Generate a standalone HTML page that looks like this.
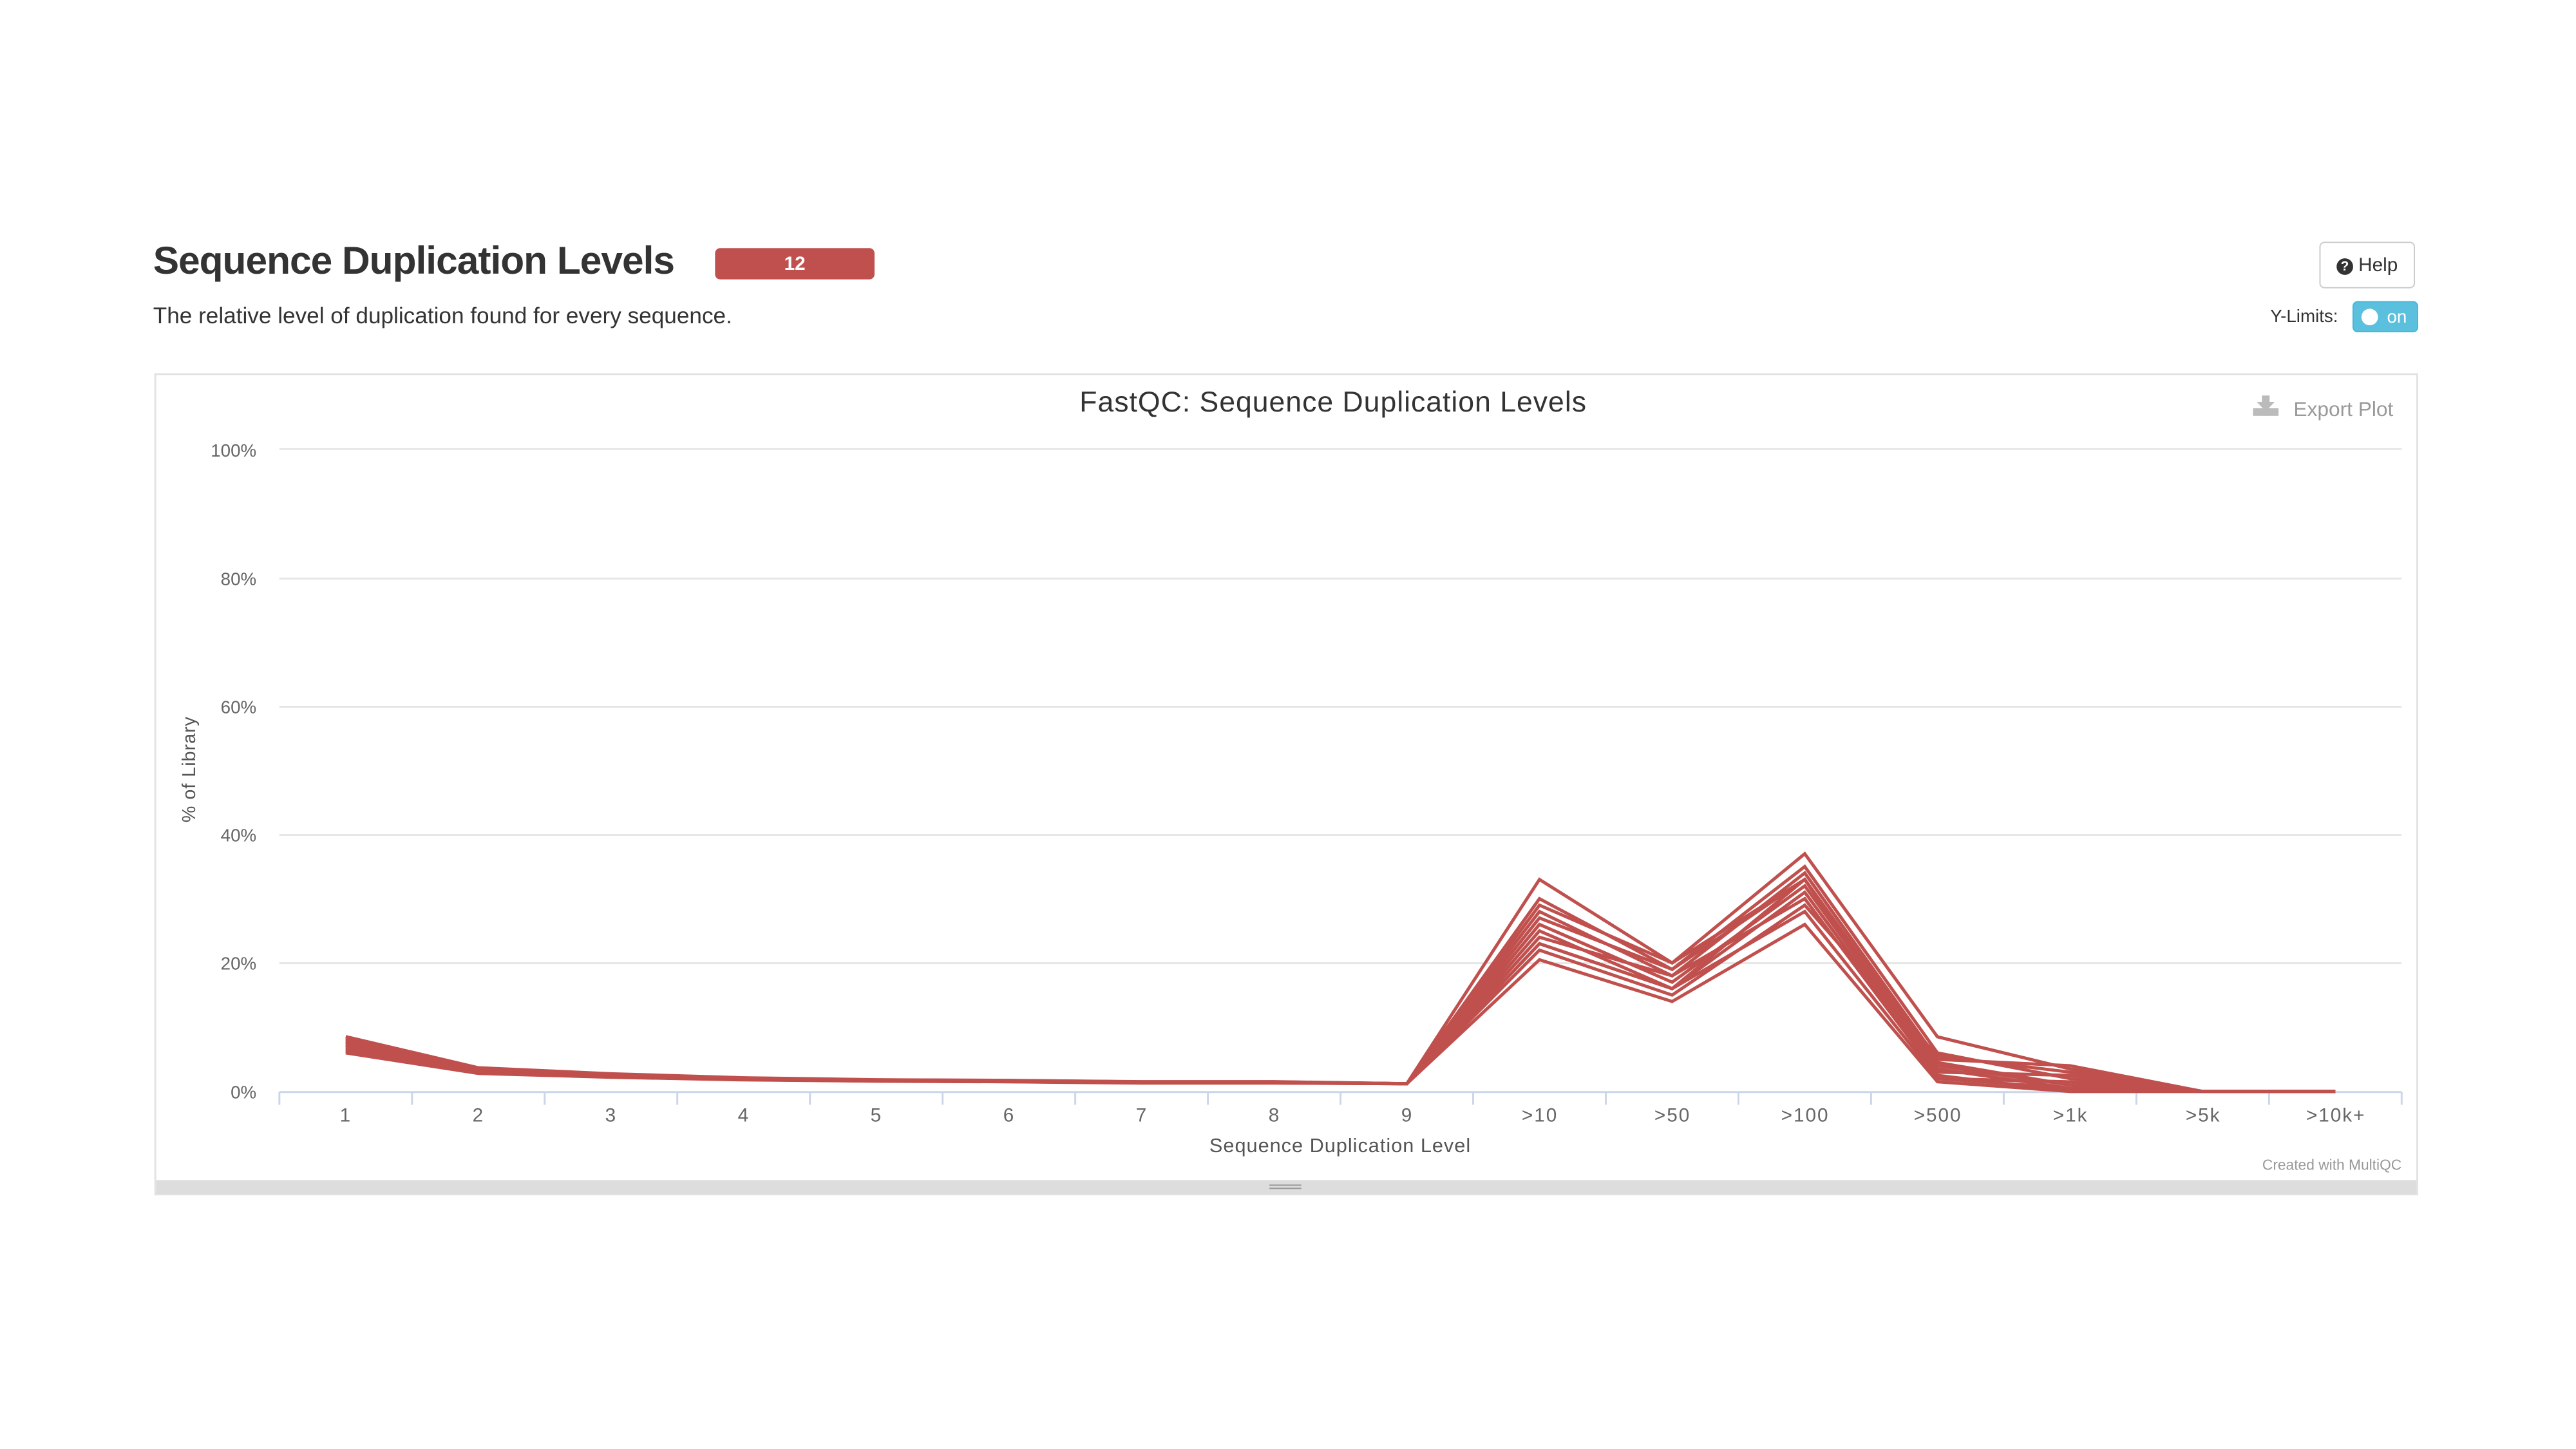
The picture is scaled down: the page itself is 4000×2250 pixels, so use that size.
<!DOCTYPE html>
<html><head><meta charset="utf-8"><style>
body{margin:0;background:#fff;width:4000px;height:2250px;overflow:hidden;font-family:"Liberation Sans",sans-serif;}
#wrap{position:absolute;left:0;top:0;width:4000px;height:2250px;transform:scale(0.9905);transform-origin:0 0;}
.abs{position:absolute;}
</style></head><body><div id="wrap">
<div class="abs" style="left:240px;top:373px;font-size:61px;font-weight:bold;color:#333;letter-spacing:-1px">Sequence Duplication Levels</div>
<div class="abs" style="left:1121px;top:389px;width:250px;height:49px;background:#c0504d;border-radius:8px;color:#fff;font-weight:bold;font-size:30px;text-align:center;line-height:49px">12</div>
<div class="abs" style="left:240px;top:475px;font-size:35.5px;color:#333">The relative level of duplication found for every sequence.</div>
<div class="abs" style="left:3636px;top:379px;width:150px;height:73px;border:2px solid #ccc;border-radius:8px;box-sizing:border-box;font-size:30px;color:#333;text-align:center;line-height:70px"><span style="display:inline-block;width:26px;height:26px;border-radius:50%;background:#333;color:#fff;font-size:21px;line-height:26px;font-weight:bold;vertical-align:1px">?</span> Help</div>
<div class="abs" style="left:3559px;top:480px;font-size:28px;color:#333">Y-Limits:</div>
<div class="abs" style="left:3688px;top:472px;width:103px;height:49px;background:#5bc0de;border-radius:8px;border:2px solid #46b8da;box-sizing:border-box"><div style="position:absolute;left:12px;top:10px;width:26px;height:26px;border-radius:50%;background:#fff"></div><div style="position:absolute;left:52px;top:7px;color:#fff;font-size:28px">on</div></div>
<div class="abs" style="left:242px;top:585px;width:3549px;height:1289px;border:3px solid #e3e3e3;box-sizing:border-box"></div>
<div class="abs" style="left:245px;top:1850px;width:3543px;height:22px;background:#ddd"></div>
<div class="abs" style="left:1990px;top:1857px;width:50px;height:3px;border-top:2px solid #999;border-bottom:2px solid #999"></div>
<svg class="abs" style="left:0;top:0" width="4000" height="2250" xmlns="http://www.w3.org/2000/svg" font-family="Liberation Sans, sans-serif">
<g stroke="#e6e6e6" stroke-width="3">
<line x1="438" x2="3765" y1="704" y2="704"/><line x1="438" x2="3765" y1="907" y2="907"/><line x1="438" x2="3765" y1="1108" y2="1108"/><line x1="438" x2="3765" y1="1309" y2="1309"/><line x1="438" x2="3765" y1="1510" y2="1510"/>
</g>
<line x1="438" x2="3765" y1="1712" y2="1712" stroke="#ccd6eb" stroke-width="3"/>
<g id="ticks" stroke="#ccd6eb" stroke-width="3"></g>
<g font-size="28" fill="#666" text-anchor="end">
<text x="402" y="716">100%</text><text x="402" y="917">80%</text><text x="402" y="1118">60%</text><text x="402" y="1319">40%</text><text x="402" y="1520">20%</text><text x="402" y="1722">0%</text>
</g>
<g font-size="30" fill="#666" text-anchor="middle" letter-spacing="2">
<text x="542" y="1758">1</text><text x="750" y="1758">2</text><text x="958" y="1758">3</text><text x="1166" y="1758">4</text><text x="1374" y="1758">5</text><text x="1582" y="1758">6</text><text x="1790" y="1758">7</text><text x="1998" y="1758">8</text><text x="2206" y="1758">9</text><text x="2414" y="1758">&gt;10</text><text x="2622" y="1758">&gt;50</text><text x="2830" y="1758">&gt;100</text><text x="3038" y="1758">&gt;500</text><text x="3246" y="1758">&gt;1k</text><text x="3454" y="1758">&gt;5k</text><text x="3662" y="1758">&gt;10k+</text>
</g>
<text x="2101" y="1806" font-size="31" fill="#555" text-anchor="middle" letter-spacing="1">Sequence Duplication Level</text>
<text x="0" y="0" font-size="29" fill="#555" text-anchor="middle" letter-spacing="1" transform="translate(306,1206) rotate(-90)">% of Library</text>
<text x="2090" y="645" font-size="45" fill="#333" text-anchor="middle" letter-spacing="1">FastQC: Sequence Duplication Levels</text>
<g fill="#bbb"><rect x="3532" y="640" width="40" height="12"/><rect x="3546" y="620" width="12" height="18"/><polygon points="3538,630 3566,630 3552,645"/></g>
<text x="3752" y="652" font-size="32" fill="#999" text-anchor="end">Export Plot</text>
<text x="3765" y="1834" font-size="23" fill="#999" text-anchor="end">Created with MultiQC</text>
<g id="lines" fill="none" stroke="#c0504d" stroke-width="5" stroke-linejoin="miter"></g>
</svg>
</div>
<script>
var t=document.getElementById('ticks'),s='';
for(var i=0;i<=16;i++){var x=438+207.94*i;s+='<line x1="'+x+'" x2="'+x+'" y1="1712" y2="1732"/>';}
t.innerHTML=s;
var tail=[[33,20,37,8.5,3.5],[30,19,35,6,2],[28,18,34,5,4],[27,19,33,4,1],[26,17,32,3.5,0.5],[25,16,31,3,2.5],[24,18,30,2.5,0],[23,16,33,2,1.5],[22,15,29,5.5,3],[20.5,14,26,1.5,0],[29,20,33,4.5,1],[23,16,28,2,0.5]];
var p='';
for(var k=0;k<12;k++){var f=6+k*0.23;var head=[f,2.8+k*0.08,2.2+k*0.05,1.8+k*0.03,1.6+k*0.02,1.5+k*0.02,1.3+k*0.02,1.3+k*0.02,1.2];
var v=head.concat(tail[k]).concat([0,0]);var pts=[];
for(var i=0;i<16;i++)pts.push((438+207.94*(i+0.5)).toFixed(1)+','+(1711-v[i]*10.07).toFixed(1));
p+='<polyline points="'+pts.join(' ')+'"/>';}
document.getElementById('lines').innerHTML=p;
</script>
</body></html>
